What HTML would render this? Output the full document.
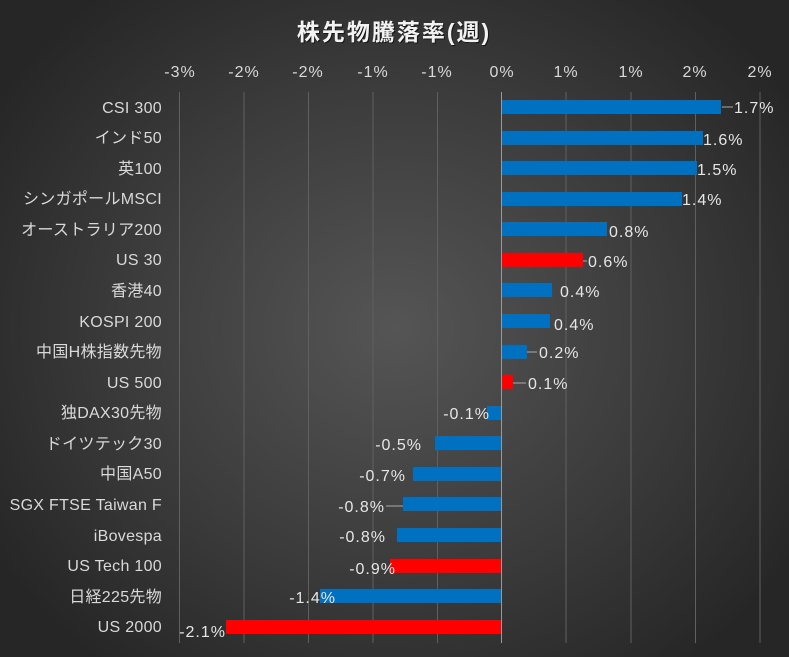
<!DOCTYPE html>
<html><head><meta charset="utf-8"><style>
html,body{margin:0;padding:0}
body{width:789px;height:657px;overflow:hidden;background:radial-gradient(ellipse 60% 65% at 50% 50%,#555 0%,#3a3a3a 60%,#262626 100%);}
svg{display:block}
text{font-family:"Liberation Sans","Noto Sans CJK JP",sans-serif;}
</style></head><body>
<svg width="789" height="657" xmlns="http://www.w3.org/2000/svg">
<text x="395" y="41" text-anchor="middle" font-size="23" font-weight="bold" fill="#000" opacity="0.6" letter-spacing="2">株先物騰落率(週)</text>
<text x="394" y="40" text-anchor="middle" font-size="23" font-weight="bold" fill="#f2f2f2" letter-spacing="2">株先物騰落率(週)</text>
<g stroke="#606060" stroke-width="1">
<line x1="179.5" y1="92" x2="179.5" y2="643"/><line x1="244" y1="92" x2="244" y2="643"/><line x1="308.5" y1="92" x2="308.5" y2="643"/><line x1="373" y1="92" x2="373" y2="643"/><line x1="437.5" y1="92" x2="437.5" y2="643"/><line x1="566" y1="92" x2="566" y2="643"/><line x1="631" y1="92" x2="631" y2="643"/><line x1="695.5" y1="92" x2="695.5" y2="643"/><line x1="760" y1="92" x2="760" y2="643"/>
</g>
<g font-size="16" fill="#d9d9d9" text-anchor="middle" letter-spacing="1">
<text x="180" y="77">-3%</text><text x="244" y="77">-2%</text><text x="308" y="77">-2%</text><text x="373" y="77">-1%</text><text x="437" y="77">-1%</text><text x="502" y="77">0%</text><text x="566" y="77">1%</text><text x="631" y="77">1%</text><text x="695" y="77">2%</text><text x="760" y="77">2%</text>
</g>
<g>
<rect x="501" y="100" width="220" height="14" fill="#0070C0"/>
<rect x="501" y="131" width="202" height="14" fill="#0070C0"/>
<rect x="501" y="161" width="196" height="14" fill="#0070C0"/>
<rect x="501" y="192" width="181" height="14" fill="#0070C0"/>
<rect x="501" y="222" width="106" height="14" fill="#0070C0"/>
<rect x="501" y="253" width="82" height="14" fill="#ff0000"/>
<rect x="501" y="283" width="51" height="14" fill="#0070C0"/>
<rect x="501" y="314" width="49" height="14" fill="#0070C0"/>
<rect x="501" y="345" width="26" height="14" fill="#0070C0"/>
<rect x="501" y="375" width="12" height="14" fill="#ff0000"/>
<rect x="487" y="406" width="14" height="14" fill="#0070C0"/>
<rect x="435" y="436" width="66" height="14" fill="#0070C0"/>
<rect x="413" y="467" width="88" height="14" fill="#0070C0"/>
<rect x="403" y="497" width="98" height="14" fill="#0070C0"/>
<rect x="397" y="528" width="104" height="14" fill="#0070C0"/>
<rect x="390" y="559" width="111" height="14" fill="#ff0000"/>
<rect x="320" y="589" width="181" height="14" fill="#0070C0"/>
<rect x="226" y="620" width="275" height="14" fill="#ff0000"/>
</g>
<line x1="501.5" y1="92" x2="501.5" y2="643" stroke="#999" stroke-width="1"/>
<g stroke="#aaa" stroke-width="1">
<line x1="722" y1="107" x2="733" y2="107"/><line x1="583" y1="261" x2="587" y2="261"/><line x1="527" y1="352" x2="537" y2="352"/><line x1="513" y1="383" x2="526" y2="383"/><line x1="386" y1="506" x2="403" y2="506"/>
</g>
<g font-size="16" fill="#e6e6e6" letter-spacing="1">
<text x="734" y="113">1.7%</text><text x="703" y="145">1.6%</text><text x="697" y="175">1.5%</text><text x="682" y="205">1.4%</text><text x="609" y="237">0.8%</text><text x="588" y="267">0.6%</text><text x="560" y="297">0.4%</text><text x="554" y="330">0.4%</text><text x="539" y="358">0.2%</text><text x="528" y="389">0.1%</text>
</g>
<g font-size="16" fill="#e6e6e6" text-anchor="end" letter-spacing="1">
<text x="490" y="419">-0.1%</text><text x="422" y="450">-0.5%</text><text x="406" y="481">-0.7%</text><text x="385" y="512">-0.8%</text><text x="386" y="542">-0.8%</text><text x="396" y="574">-0.9%</text><text x="336" y="603">-1.4%</text><text x="226" y="637">-2.1%</text>
</g>
<g font-size="16" fill="#d9d9d9" text-anchor="end" letter-spacing="0.3">
<text x="162" y="113">CSI 300</text><text x="162" y="143">インド50</text><text x="162" y="174">英100</text><text x="162" y="204">シンガポールMSCI</text><text x="162" y="235">オーストラリア200</text><text x="162" y="265">US 30</text><text x="162" y="296">香港40</text><text x="162" y="327">KOSPI 200</text><text x="162" y="357">中国H株指数先物</text><text x="162" y="388">US 500</text><text x="162" y="418">独DAX30先物</text><text x="162" y="449">ドイツテック30</text><text x="162" y="479">中国A50</text><text x="162" y="510">SGX FTSE Taiwan F</text><text x="162" y="541">iBovespa</text><text x="162" y="571">US Tech 100</text><text x="162" y="602">日経225先物</text><text x="162" y="632">US 2000</text>
</g>
</svg>
</body></html>
